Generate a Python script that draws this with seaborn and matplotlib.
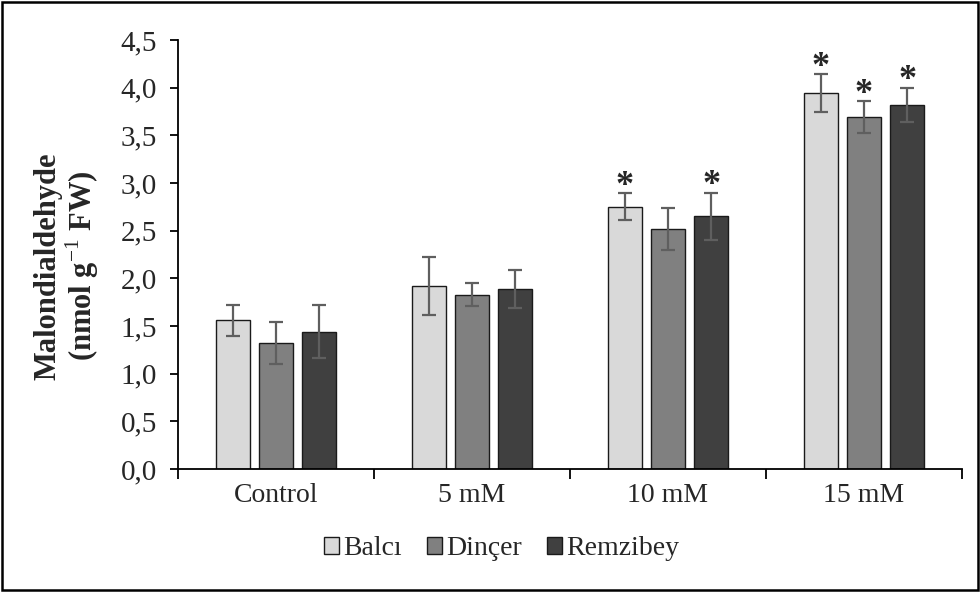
import numpy as np
import pandas as pd
import matplotlib
matplotlib.use("Agg")
import matplotlib.pyplot as plt
import seaborn as sns
from matplotlib.ticker import FuncFormatter, FixedLocator
from matplotlib.patches import Rectangle, Patch

# data
doses = ["Control", "5 mM", "10 mM", "15 mM"]
cultivars = ["Balcı", "Dinçer", "Remzibey"]
balci = [1.56, 1.92, 2.75, 3.94]
balci_err = [0.16, 0.30, 0.14, 0.20]
dincer = [1.32, 1.83, 2.52, 3.69]
dincer_err = [0.22, 0.12, 0.22, 0.17]
remzibey = [1.44, 1.89, 2.65, 3.82]
remzibey_err = [0.28, 0.20, 0.25, 0.18]
# significance stars (True = *)
balci_sig = [False, False, True, True]
dincer_sig = [False, False, False, True]
remzibey_sig = [False, False, True, True]

colors = ["#d9d9d9", "#808080", "#404040"]

df = pd.DataFrame({
    "Dose": doses * 3,
    "Cultivar": [c for c in cultivars for _ in doses],
    "MDA": balci + dincer + remzibey,
})
errs = [balci_err, dincer_err, remzibey_err]
sigs = [balci_sig, dincer_sig, remzibey_sig]
vals = [balci, dincer, remzibey]

sns.set_style("white")
plt.rcParams["font.family"] = ["Liberation Serif", "DejaVu Serif"]
plt.rcParams["mathtext.fontset"] = "custom"
plt.rcParams["mathtext.rm"] = "Liberation Serif"
plt.rcParams["mathtext.bf"] = "Liberation Serif:bold"

fig = plt.figure(figsize=(9.8, 5.92), dpi=100)
ax = fig.add_axes([0.1816, 0.2078, 0.8, 0.7246])

sns.barplot(data=df, x="Dose", y="MDA", hue="Cultivar", order=doses,
            hue_order=cultivars, palette=colors, width=0.66, gap=0.21,
            errorbar=None, edgecolor="#1a1a1a", linewidth=1.0, legend=False,
            ax=ax)

# error bars and stars
for i, c in enumerate(cultivars):
    cont = ax.containers[i]
    for j, bar in enumerate(cont):
        xc = bar.get_x() + bar.get_width() / 2
        ax.errorbar(xc, vals[i][j], yerr=errs[i][j], color="#5f5f5f",
                    elinewidth=1.6, capsize=5, capthick=1.6, fmt="none",
                    zorder=3)
        if sigs[i][j]:
            ax.text(xc, vals[i][j] + errs[i][j] - 0.1, "*", ha="center",
                    va="bottom", fontsize=26, fontweight="bold")

ax.set_xlim(-0.5, 3.5)
ax.set_ylim(0, 4.5)
ax.set_yticks(np.arange(0, 4.51, 0.5))
ax.yaxis.set_major_formatter(FuncFormatter(lambda v, p: f"{v:.1f}".replace(".", ",")))
ax.xaxis.set_minor_locator(FixedLocator([-0.5, 0.5, 1.5, 2.5, 3.5]))
ax.tick_params(axis="x", which="major", length=0, labelsize=20, pad=10)
ax.tick_params(axis="x", which="minor", length=7, width=1.3, direction="out",
               color="black", bottom=True)
ax.tick_params(axis="y", length=6, width=1.3, direction="out", left=True,
               labelsize=21, pad=9, color="black")
for s in ["top", "right"]:
    ax.spines[s].set_visible(False)
for s in ["left", "bottom"]:
    ax.spines[s].set_color("black")
    ax.spines[s].set_linewidth(1.3)

ax.set_xlabel("")
ax.set_ylabel("Malondialdehyde\n(nmol g$^{-1}$ FW)", fontsize=22,
              fontweight="bold", linespacing=1.05)
ax.yaxis.set_label_coords(-0.098, 0.473)

handles = [Patch(facecolor=colors[k], edgecolor="#1a1a1a", linewidth=1.0)
           for k in range(3)]
fig.legend(handles, cultivars, loc="center", bbox_to_anchor=(0.512, 0.073),
           ncol=3, frameon=False, fontsize=20, handlelength=0.55,
           handleheight=0.55, handletextpad=0.15, columnspacing=0.9)

fig.patches.append(Rectangle((0.002, 0.003), 0.996, 0.994,
                             transform=fig.transFigure, fill=False,
                             edgecolor="black", linewidth=1.8))

fig.savefig("out.png", dpi=100)
